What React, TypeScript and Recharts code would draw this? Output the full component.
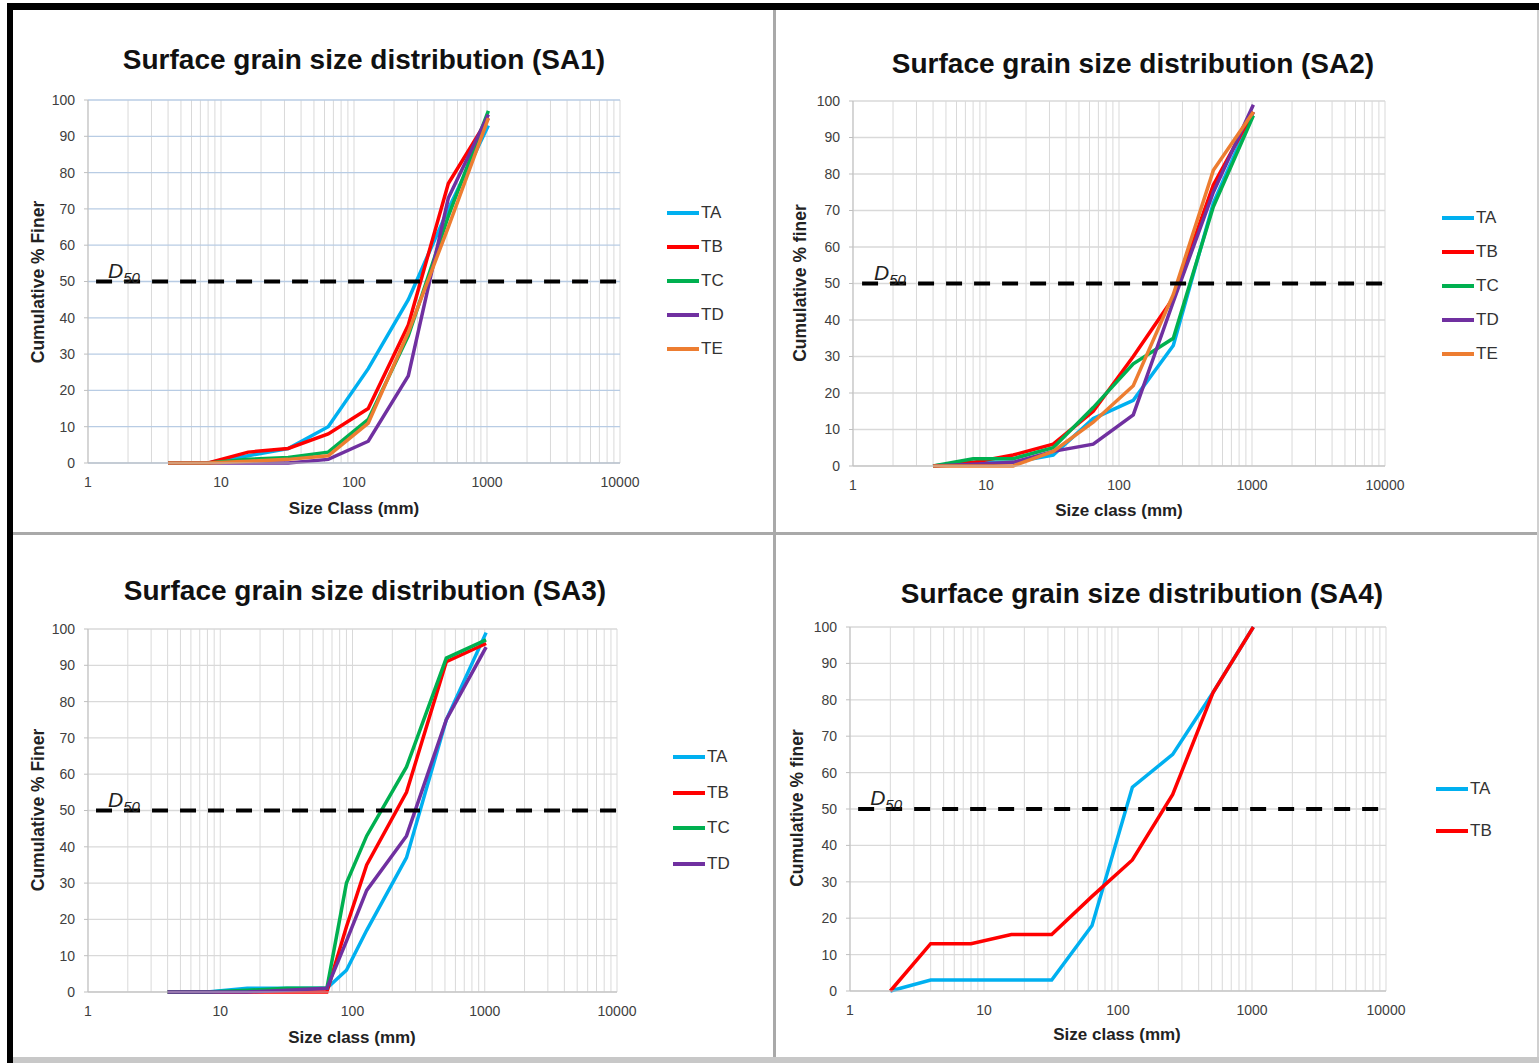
import React from "react";
import { LineChart, Line, XAxis, YAxis, CartesianGrid, ReferenceLine } from "recharts";

// grain size classes (mm) and cumulative % finer
const SA1_SIZES = [4, 8, 16, 32, 64, 128, 256, 512, 1024];
const SA1_TA = [0, 0, 2, 4, 10, 26, 45, 70, 93];
const SA1_TB = [0, 0, 3, 4, 8, 15, 38, 77, 95];
const SA1_TC = [0, 0, 1, 1.5, 3, 12, 35, 68, 97];
const SA1_TD = [0, 0, 0, 0, 1, 6, 24, 73, 96];
const SA1_TE = [0, 0, 0.5, 1, 2, 11, 36, 65, 95];

const SA2_SIZES = [4, 8, 16, 32, 64, 128, 256, 512, 1024];
const SA2_TA = [0, 1, 1, 3, 13, 18, 33, 72, 97];
const SA2_TB = [0, 1, 3, 6, 15, 30, 46, 77, 97];
const SA2_TC = [0, 2, 2, 5, 16, 28, 35, 71, 96];
const SA2_TD = [0, 0.5, 1, 4, 6, 14, 45, 75, 99];
const SA2_TE = [0, 0, 0, 4, 12, 22, 47, 81, 97];

const SA3_SIZES = [4, 8, 16, 32, 64, 90, 128, 256, 512, 1024];
const SA3_TA = [0, 0, 1, 1, 1, 6, 17, 37, 75, 99];
const SA3_TB = [0, 0, 0, 0, 0, 18, 35, 55, 91, 96];
const SA3_TC = [0, 0, 0.5, 1, 1, 30, 43, 62, 92, 97];
const SA3_TD = [0, 0, 0, 0.5, 1, 14, 28, 43, 75, 95];

const SA4_SIZES = [2, 4, 8, 16, 32, 64, 128, 256, 512, 1024];
const SA4_TA = [0, 3, 3, 3, 3, 18, 56, 65, 82, 100];
const SA4_TB = [0, 13, 13, 15.5, 15.5, 26, 36, 54, 82, 100];

const Y_TICKS = [0, 10, 20, 30, 40, 50, 60, 70, 80, 90, 100];
const X_MAJOR = [1, 10, 100, 1000, 10000];
const X_MINOR = [1, 2, 3, 4, 5, 6, 7, 8, 9];
const X_TICKS = [1, 10, 100, 1000].flatMap((d) => X_MINOR.map((m) => m * d)).concat(10000);

const COLORS: Record<string, string> = {
  TA: "#00b0f0",
  TB: "#ff0000",
  TC: "#00b050",
  TD: "#7030a0",
  TE: "#ed7d31",
};

const FONT = "'Liberation Sans', Arial, sans-serif";
const GRID = "#d9d9d9";

type Geo = { left: number; top: number; w: number; h: number; pl: number; pr: number; pt: number; pb: number };

function D50Label(props: any) {
  const vb = props.viewBox || {};
  return (
    <text x={vb.x + 12} y={vb.y - 4} fontFamily={FONT} fontStyle="italic" fill="#222">
      <tspan fontSize={21}>D</tspan>
      <tspan fontSize={15} dy={5}>50</tspan>
    </text>
  );
}

function Panel({
  geo,
  title,
  titleX,
  titleY,
  yLabel,
  yLabelX,
  yLabelY,
  xLabel,
  xLabelX,
  xLabelY,
  sizes,
  series,
  hGrid,
  legendX,
  legendY,
  legendGap,
  d50Start,
}: {
  geo: Geo;
  title: string;
  titleX: number;
  titleY: number;
  yLabel: string;
  yLabelX: number;
  yLabelY: number;
  xLabel: string;
  xLabelX: number;
  xLabelY: number;
  sizes: number[];
  series: { name: string; values: number[] }[];
  hGrid: string;
  legendX: number;
  legendY: number;
  legendGap: number;
  d50Start: number;
}) {
  const data = sizes.map((s, i) => {
    const row: Record<string, number> = { size: s };
    series.forEach((sr) => (row[sr.name] = sr.values[i]));
    return row;
  });
  const yAxisW = 40;
  const xAxisH = 30;
  const margin = {
    top: geo.pt - geo.top,
    left: geo.pl - geo.left - yAxisW,
    right: geo.left + geo.w - geo.pr,
    bottom: geo.top + geo.h - geo.pb - xAxisH,
  };
  const abs = (x: number, y: number) => ({ left: x - geo.left, top: y - geo.top });
  return (
    <div style={{ position: "absolute", left: geo.left, top: geo.top, width: geo.w, height: geo.h, background: "#fff" }}>
      <LineChart width={geo.w} height={geo.h} data={data} margin={margin}>
        <CartesianGrid horizontal={false} vertical stroke={GRID} strokeWidth={1} />
        <CartesianGrid horizontal vertical={false} stroke={hGrid} strokeWidth={1.3} />
        <XAxis
          type="number"
          dataKey="size"
          scale="log"
          domain={[1, 10000]}
          ticks={X_TICKS}
          interval={0}
          allowDataOverflow
          height={xAxisH}
          tickLine={false}
          tickMargin={8}
          axisLine={{ stroke: "#bfbfbf" }}
          tick={{ fontSize: 14, fill: "#404040", fontFamily: FONT }}
          tickFormatter={(v: number) => (X_MAJOR.includes(v) ? String(v) : "")}
        />
        <YAxis
          type="number"
          domain={[0, 100]}
          ticks={Y_TICKS}
          interval={0}
          width={yAxisW}
          tickSize={4}
          tickLine={{ stroke: "#bfbfbf" }}
          tickMargin={9}
          axisLine={{ stroke: "#bfbfbf" }}
          tick={{ fontSize: 14, fill: "#404040", fontFamily: FONT }}
        />
        {series.map((sr) => (
          <Line
            key={sr.name}
            type="linear"
            dataKey={sr.name}
            stroke={COLORS[sr.name]}
            strokeWidth={3.5}
            dot={false}
            activeDot={false}
            isAnimationActive={false}
          />
        ))}
        <ReferenceLine
          segment={[
            { x: d50Start, y: 50 },
            { x: 10000, y: 50 },
          ]}
          stroke="#000"
          strokeWidth={4}
          strokeDasharray="16 12"
          label={(p: any) => <D50Label {...p} />}
        />
      </LineChart>
      <div
        style={{
          position: "absolute",
          ...abs(titleX, titleY),
          transform: "translate(-50%, -50%)",
          whiteSpace: "nowrap",
          fontFamily: FONT,
          fontWeight: "bold",
          fontSize: 28,
          color: "#111",
        }}
      >
        {title}
      </div>
      <div
        style={{
          position: "absolute",
          ...abs(yLabelX, yLabelY),
          transform: "translate(-50%, -50%) rotate(-90deg)",
          whiteSpace: "nowrap",
          fontFamily: FONT,
          fontWeight: "bold",
          fontSize: 17.5,
          color: "#222",
        }}
      >
        {yLabel}
      </div>
      <div
        style={{
          position: "absolute",
          ...abs(xLabelX, xLabelY),
          transform: "translate(-50%, -50%)",
          whiteSpace: "nowrap",
          fontFamily: FONT,
          fontWeight: "bold",
          fontSize: 17,
          color: "#222",
        }}
      >
        {xLabel}
      </div>
      {series.map((sr, i) => (
        <div
          key={sr.name}
          style={{
            position: "absolute",
            ...abs(legendX, legendY + i * legendGap),
            transform: "translateY(-50%)",
            display: "flex",
            alignItems: "center",
            fontFamily: FONT,
            fontSize: 17,
            color: "#333",
          }}
        >
          <span style={{ display: "inline-block", width: 32, height: 4, background: COLORS[sr.name], marginRight: 2 }} />
          {sr.name}
        </div>
      ))}
    </div>
  );
}

export default function App() {
  return (
    <div style={{ position: "absolute", left: 0, top: 0, width: 1539, height: 1063, background: "#fff", overflow: "hidden" }}>
      {/* outer frame */}
      <div style={{ position: "absolute", left: 7, top: 3, width: 1532, height: 7, background: "#000" }} />
      <div style={{ position: "absolute", left: 7, top: 3, width: 6, height: 1060, background: "#000" }} />
      <div style={{ position: "absolute", left: 1537, top: 10, width: 2, height: 1053, background: "#d0d0d0" }} />
      <div style={{ position: "absolute", left: 13, top: 1057, width: 1526, height: 6, background: "#c8c8c8" }} />
      <div style={{ position: "absolute", left: 773, top: 10, width: 3, height: 1047, background: "#a9a9a9" }} />
      <div style={{ position: "absolute", left: 13, top: 532, width: 1524, height: 3, background: "#a9a9a9" }} />

      <Panel
        geo={{ left: 13, top: 10, w: 760, h: 522, pl: 88, pr: 620, pt: 100, pb: 463 }}
        title="Surface grain size distribution (SA1)"
        titleX={364}
        titleY={60}
        yLabel="Cumulative % Finer"
        yLabelX={38}
        yLabelY={282}
        xLabel="Size Class (mm)"
        xLabelX={354}
        xLabelY={509}
        sizes={SA1_SIZES}
        series={[
          { name: "TA", values: SA1_TA },
          { name: "TB", values: SA1_TB },
          { name: "TC", values: SA1_TC },
          { name: "TD", values: SA1_TD },
          { name: "TE", values: SA1_TE },
        ]}
        hGrid="#b8cce4"
        legendX={667}
        legendY={213}
        legendGap={34}
        d50Start={1.15}
      />
      <Panel
        geo={{ left: 776, top: 10, w: 761, h: 522, pl: 853, pr: 1385, pt: 101, pb: 466 }}
        title="Surface grain size distribution (SA2)"
        titleX={1133}
        titleY={64}
        yLabel="Cumulative % finer"
        yLabelX={800}
        yLabelY={283}
        xLabel="Size class (mm)"
        xLabelX={1119}
        xLabelY={511}
        sizes={SA2_SIZES}
        series={[
          { name: "TA", values: SA2_TA },
          { name: "TB", values: SA2_TB },
          { name: "TC", values: SA2_TC },
          { name: "TD", values: SA2_TD },
          { name: "TE", values: SA2_TE },
        ]}
        hGrid={GRID}
        legendX={1442}
        legendY={218}
        legendGap={34}
        d50Start={1.17}
      />
      <Panel
        geo={{ left: 13, top: 535, w: 760, h: 522, pl: 88, pr: 617, pt: 629, pb: 992 }}
        title="Surface grain size distribution (SA3)"
        titleX={365}
        titleY={591}
        yLabel="Cumulative % Finer"
        yLabelX={38}
        yLabelY={810}
        xLabel="Size class (mm)"
        xLabelX={352}
        xLabelY={1038}
        sizes={SA3_SIZES}
        series={[
          { name: "TA", values: SA3_TA },
          { name: "TB", values: SA3_TB },
          { name: "TC", values: SA3_TC },
          { name: "TD", values: SA3_TD },
        ]}
        hGrid={GRID}
        legendX={673}
        legendY={757}
        legendGap={35.7}
        d50Start={1.15}
      />
      <Panel
        geo={{ left: 776, top: 535, w: 761, h: 522, pl: 850, pr: 1386, pt: 627, pb: 991 }}
        title="Surface grain size distribution (SA4)"
        titleX={1142}
        titleY={594}
        yLabel="Cumulative % finer"
        yLabelX={797}
        yLabelY={808}
        xLabel="Size class (mm)"
        xLabelX={1117}
        xLabelY={1035}
        sizes={SA4_SIZES}
        series={[
          { name: "TA", values: SA4_TA },
          { name: "TB", values: SA4_TB },
        ]}
        hGrid={GRID}
        legendX={1436}
        legendY={789}
        legendGap={42}
        d50Start={1.15}
      />
    </div>
  );
}
